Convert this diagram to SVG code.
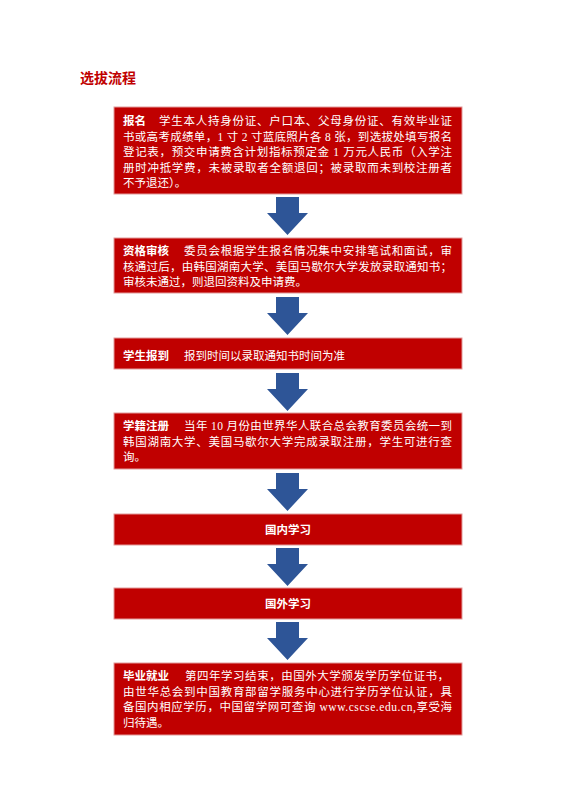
<svg xmlns="http://www.w3.org/2000/svg" width="570" height="801" viewBox="0 0 570 801">
<style>
.box{fill:#c00000;stroke:#e29a9a;stroke-width:1}
.t{font-family:"Liberation Serif","Noto Sans CJK SC",serif;font-size:11.5px;fill:#ffffff}
.b{font-family:"Liberation Sans","Noto Sans CJK SC",sans-serif;font-size:11.5px;font-weight:bold;fill:#ffffff}
.title{font-family:"Liberation Sans","Noto Sans CJK SC",sans-serif;font-size:14px;font-weight:bold;fill:#c00000}
.arrow{fill:#2e5597}
</style>
<defs>
<path id="arr" d="M-11.5,0 H11.5 V16 H20.5 L0,38 L-20.5,16 H-11.5 Z"/>
</defs>
<rect width="570" height="801" fill="#ffffff"/>
<text class="title" x="80" y="83">选拔流程</text>

<g id="connectors" class="arrow">
<use href="#arr" x="287.5" y="197"/>
<use href="#arr" x="287.5" y="297"/>
<use href="#arr" x="287.5" y="373"/>
<use href="#arr" x="287.5" y="473"/>
<use href="#arr" x="287.5" y="548"/>
<use href="#arr" x="287.5" y="622"/>
</g>

<g id="n1">
<rect class="box" x="114" y="107" width="348" height="87"/>
<text class="b" x="123" y="125">报名</text>
<text class="t" x="159" y="125" textLength="293" lengthAdjust="spacing">学生本人持身份证、户口本、父母身份证、有效毕业证</text>
<text class="t" x="123" y="140.5" textLength="329" lengthAdjust="spacing">书或高考成绩单，1 寸 2 寸蓝底照片各 8 张，到选拔处填写报名</text>
<text class="t" x="123" y="156" textLength="329" lengthAdjust="spacing">登记表，预交申请费含计划指标预定金 1 万元人民币（入学注</text>
<text class="t" x="123" y="171.5" textLength="329" lengthAdjust="spacing">册时冲抵学费，未被录取者全额退回；被录取而未到校注册者</text>
<text class="t" x="123" y="187">不予退还）。</text>
</g>

<g id="n2">
<rect class="box" x="114" y="238" width="348" height="55"/>
<text class="b" x="123" y="255">资格审核</text>
<text class="t" x="184" y="255" textLength="268" lengthAdjust="spacing">委员会根据学生报名情况集中安排笔试和面试，审</text>
<text class="t" x="123" y="270.5" textLength="329" lengthAdjust="spacing">核通过后，由韩国湖南大学、美国马歇尔大学发放录取通知书；</text>
<text class="t" x="123" y="286">审核未通过，则退回资料及申请费。</text>
</g>

<g id="n3">
<rect class="box" x="114" y="338" width="348" height="31"/>
<text class="b" x="123" y="360">学生报到</text>
<text class="t" x="184" y="360">报到时间以录取通知书时间为准</text>
</g>

<g id="n4">
<rect class="box" x="114" y="413" width="348" height="56"/>
<text class="b" x="123" y="430">学籍注册</text>
<text class="t" x="184" y="430" textLength="268" lengthAdjust="spacing">当年 10 月份由世界华人联合总会教育委员会统一到</text>
<text class="t" x="123" y="446" textLength="329" lengthAdjust="spacing">韩国湖南大学、美国马歇尔大学完成录取注册，学生可进行查</text>
<text class="t" x="123" y="461">询。</text>
</g>

<g id="n5">
<rect class="box" x="114" y="514" width="348" height="31"/>
<text class="b" x="288" y="534" text-anchor="middle">国内学习</text>
</g>

<g id="n6">
<rect class="box" x="114" y="588" width="348" height="31"/>
<text class="b" x="288" y="608" text-anchor="middle">国外学习</text>
</g>

<g id="n7">
<rect class="box" x="114" y="663" width="348" height="72"/>
<text class="b" x="123" y="680">毕业就业</text>
<text class="t" x="185" y="680" textLength="264" lengthAdjust="spacing">第四年学习结束，由国外大学颁发学历学位证书，</text>
<text class="t" x="123" y="695.5" textLength="329" lengthAdjust="spacing">由世华总会到中国教育部留学服务中心进行学历学位认证，具</text>
<text class="t" x="123" y="711" textLength="329" lengthAdjust="spacing">备国内相应学历，中国留学网可查询 www.cscse.edu.cn,享受海</text>
<text class="t" x="123" y="726.5">归待遇。</text>
</g>
</svg>
